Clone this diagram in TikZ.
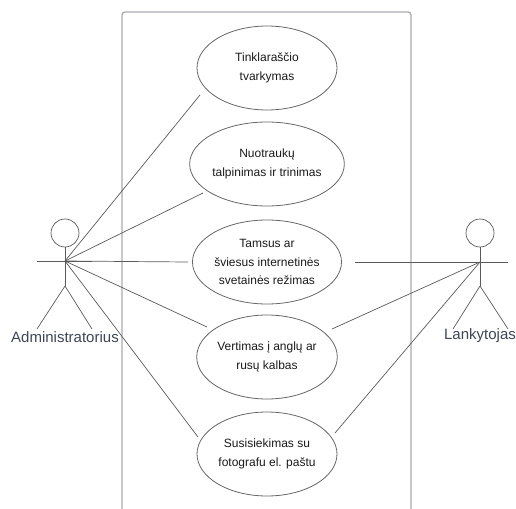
\documentclass[tikz,border=0pt]{standalone}
\usepackage{fontspec}
\setmainfont{Liberation Sans}
\usetikzlibrary{shapes.geometric}
\definecolor{framecol}{HTML}{A9ABB0}
\definecolor{linecol}{HTML}{5A5A5A}
\definecolor{ellcol}{HTML}{666666}
\definecolor{txtcol}{HTML}{1A1A1A}
\definecolor{actcol}{HTML}{3C4656}
\begin{document}
\begin{tikzpicture}[x=1pt,y=-1pt,
  usecase/.style={ellipse, draw=ellcol, line width=0.8pt, minimum width=140pt, minimum height=84pt,
    inner sep=0pt, align=center, text=txtcol, font=\fontsize{12}{18.5}\selectfont},
  assoc/.style={draw=linecol, line width=0.7pt},
  actorline/.style={draw=linecol, line width=0.7pt},
  actorlabel/.style={text=actcol, font=\fontsize{15}{17}\selectfont, inner sep=0pt},
  boundary/.style={draw=framecol, line width=1.3pt, rounded corners=3pt}]
\useasboundingbox (0,0) rectangle (516,508);
% system boundary
\draw[boundary] (122,510) -- (122,12) -- (411,12) -- (411,510);
% use cases
\node[usecase] (u1) at (267,68) {Tinklaraščio\\tvarkymas};
\node[usecase] (u2) at (267,164) {Nuotraukų\\talpinimas ir trinimas};
\node[usecase] (u3) at (267,262) {Tamsus ar\\šviesus internetinės\\svetainės režimas};
\node[usecase] (u4) at (267,357) {Vertimas į anglų ar\\rusų kalbas};
\node[usecase] (u5) at (267,454) {Susisiekimas su\\fotografu el. paštu};
% actor Administratorius
\coordinate (adm) at (65,261);
\node[circle, draw=linecol, line width=0.7pt, minimum size=28pt, inner sep=0pt] (admhead) at (65,233) {};
\coordinate (admhip) at (65,286);
\draw[actorline] (admhead.south) -- (admhip);
\draw[actorline] (37,261) -- (92,261);
\draw[actorline] (admhip) -- (37,329);
\draw[actorline] (admhip) -- (92,329);
\node[actorlabel] (admlabel) at (65,337) {Administratorius};
% actor Lankytojas
\coordinate (lan) at (480,262);
\node[circle, draw=linecol, line width=0.7pt, minimum size=28pt, inner sep=0pt] (lanhead) at (480,233) {};
\coordinate (lanhip) at (480,286);
\draw[actorline] (lanhead.south) -- (lanhip);
\draw[actorline] (453,262) -- (508,262);
\draw[actorline] (lanhip) -- (453,329);
\draw[actorline] (lanhip) -- (508,329);
\node[actorlabel] (lanlabel) at (480,336) {Lankytojas};
% association ends
\coordinate (a1) at (200,95);
\coordinate (a2) at (203,193);
\coordinate (a3) at (188,262);
\coordinate (a4) at (207,327);
\coordinate (a5) at (198,437);
\coordinate (l3) at (355,262);
\coordinate (l4) at (332,329);
\coordinate (l5) at (335,433);
\draw[assoc] (adm) -- (a1);
\draw[assoc] (adm) -- (a2);
\draw[assoc] (adm) -- (a3);
\draw[assoc] (adm) -- (a4);
\draw[assoc] (adm) -- (a5);
\draw[assoc] (lan) -- (l3);
\draw[assoc] (lan) -- (l4);
\draw[assoc] (lan) -- (l5);
\end{tikzpicture}
\end{document}
